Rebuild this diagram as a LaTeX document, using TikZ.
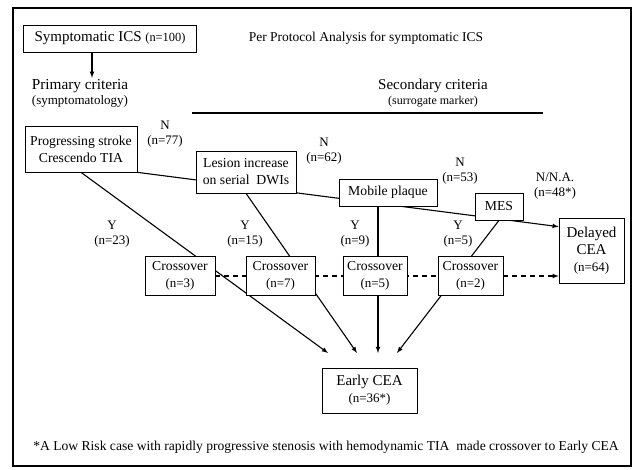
\documentclass[tikz,border=0pt]{standalone}
\usepackage{fontspec}
\setmainfont{Liberation Serif}
\usetikzlibrary{backgrounds,calc}

\newcommand{\cnt}[1]{{\fontsize{13}{15}\selectfont #1}}

\begin{document}
\begin{tikzpicture}[x=1pt,y=-1pt,>=latex,
    box/.style={draw,fill=white,line width=0.7pt,align=center,inner sep=1pt,
      font=\fontsize{13.7}{17}\selectfont},
    bigbox/.style={box,font=\fontsize{15}{17}\selectfont},
    lbl/.style={align=center,inner sep=1pt,font=\fontsize{13}{15}\selectfont},
    flow/.style={line width=1.1pt}]
      \useasboundingbox (0,0) rectangle (635,469);
      \draw[line width=1.2pt] (13,8) rectangle (631,466);

      \node[bigbox, minimum width=173, minimum height=27] (ics) at (110,38.5)
        {Symptomatic ICS {\fontsize{12.4}{13}\selectfont (n=100)}};
      \node[font=\fontsize{13.5}{16}\selectfont] (title) at (366,38) {Per Protocol Analysis for symptomatic ICS};

      \node[align=center, inner sep=1pt, font=\fontsize{15.3}{16}\selectfont] (prim) at (80,93)
        {Primary criteria\\[-1pt]{\fontsize{13}{14}\selectfont (symptomatology)}};
      \node[align=center, inner sep=1pt, font=\fontsize{15}{16}\selectfont] (sec) at (433,93)
        {Secondary criteria\\[-1pt]{\fontsize{12}{14}\selectfont (surrogate marker)}};
      \draw[line width=1.6pt] (192,113) -- (543,113);

      \node[box, minimum width=112, minimum height=46] (ps) at (81,149) {Progressing stroke\\Crescendo TIA};
      \node[box, minimum width=100, minimum height=42] (lesion) at (246,172) {Lesion increase\\on serial\ \ DWIs};
      \node[box, minimum width=98, minimum height=27] (mobile) at (388,192.5) {Mobile plaque};
      \node[box, minimum width=48, minimum height=27] (mes) at (499,206.5) {MES};
      \node[bigbox, minimum width=65, minimum height=65] (delayed) at (591.5,250.5)
        {Delayed\\CEA\\\cnt{(n=64)}};

      \node[box, minimum width=70, minimum height=39] (c1) at (180,276) {Crossover\\\cnt{(n=3)}};
      \node[box, minimum width=69, minimum height=39] (c2) at (280.5,276) {Crossover\\\cnt{(n=7)}};
      \node[box, minimum width=64, minimum height=39] (c3) at (375,276) {Crossover\\\cnt{(n=5)}};
      \node[box, minimum width=65, minimum height=39] (c4) at (470.5,276) {Crossover\\\cnt{(n=2)}};

      \node[bigbox, minimum width=95, minimum height=45] (early) at (369.5,390.5)
        {Early CEA\\\cnt{(n=36*)}};

      % N / Y counts
      \node[lbl] (n77) at (165,134) {N\\(n=77)};
      \node[lbl] (n62) at (324,151) {N\\(n=62)};
      \node[lbl] (n53) at (460,171) {N\\(n=53)};
      \node[lbl] (n48) at (555,186) {N/N.A.\\(n=48*)};
      \node[lbl] (y23) at (112,234) {Y\\(n=23)};
      \node[lbl] (y15) at (245,234) {Y\\(n=15)};
      \node[lbl] (y9) at (355,234) {Y\\(n=9)};
      \node[lbl] (y5) at (458,234) {Y\\(n=5)};

      \node[font=\fontsize{13.6}{15}\selectfont] (note) at (326,447)
        {*A Low Risk case with rapidly progressive stenosis with hemodynamic TIA\ \ made crossover to Early CEA};

      \coordinate (t1) at (328,353);
      \coordinate (t2) at (357,353);
      \coordinate (t3) at (378,353);
      \coordinate (t4) at (397,353);

      \draw[->, flow] ([xshift=-18]ics.south) -- ([xshift=-18]ics.south |- prim.north);

      \begin{pgfonlayer}{background}
        \draw[->, flow] (ps.south east) -- ([yshift=-9]delayed.north west);
        \draw[->, flow] (ps.south) -- (t1);
        \draw[->, flow] (lesion.south) -- (t2);
        \draw[->, flow] (mobile.south -| t3) -- (t3);
        \draw[->, flow] (mes.south) -- (t4);
        \draw[->, flow, dashed, dash pattern=on 5pt off 4pt] (c1.east) -- (delayed.west |- c1.east);
      \end{pgfonlayer}
    \end{tikzpicture}
\end{document}
